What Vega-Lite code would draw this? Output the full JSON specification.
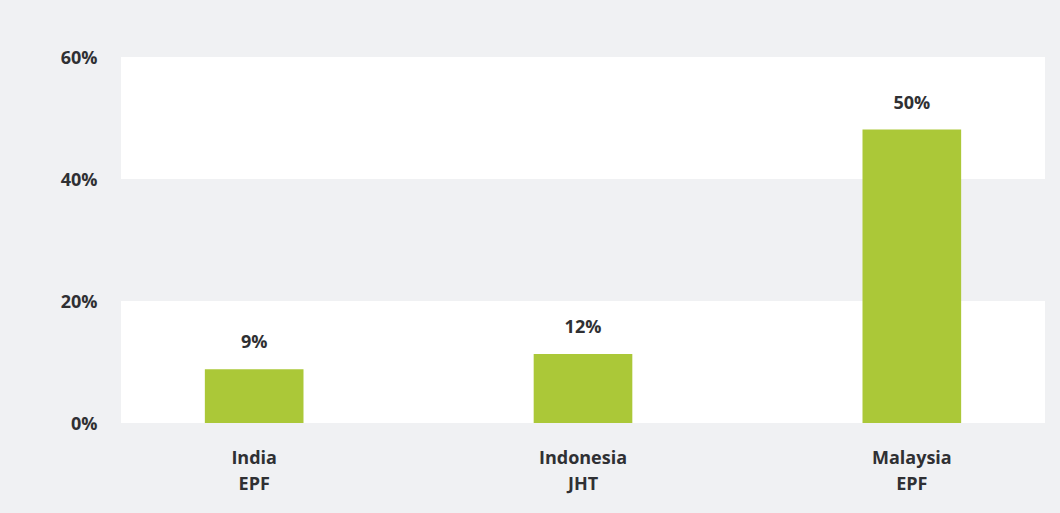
{
  "$schema": "https://vega.github.io/schema/vega-lite/v6.json",
  "width": 924,
  "height": 366,
  "autosize": {"type": "none"},
  "padding": {"left": 121, "top": 57, "right": 15, "bottom": 90},
  "background": "#f0f1f3",
  "config": {
    "view": {"fill": "#ffffff", "stroke": null},
    "font": "Open Sans"
  },
  "datasets": {
    "bars": [
      {"scheme": "India EPF", "share": 8.8, "label": "9%"},
      {"scheme": "Indonesia JHT", "share": 11.3, "label": "12%"},
      {"scheme": "Malaysia EPF", "share": 48.1, "label": "50%"}
    ],
    "bands": [
      {"from": 20, "to": 40}
    ]
  },
  "layer": [
    {
      "data": {"name": "bands"},
      "mark": {"type": "rect", "color": "#f0f1f3"},
      "encoding": {
        "y": {"field": "from", "type": "quantitative", "scale": {"domain": [0, 60]}},
        "y2": {"field": "to"}
      }
    },
    {
      "data": {"name": "bars"},
      "mark": {"type": "bar", "color": "#abc838"},
      "encoding": {
        "x": {
          "field": "scheme", "type": "nominal", "sort": null,
          "scale": {"paddingInner": 0.7, "paddingOuter": 0.255},
          "axis": {
            "title": null, "labelAngle": 0, "ticks": false, "domain": false, "grid": false,
            "labelExpr": "split(datum.label, ' ')",
            "labelFont": "Open Sans", "labelFontSize": 18, "labelFontWeight": "bold",
            "labelColor": "#2f3033", "labelPadding": 26, "labelLineHeight": 26
          }
        },
        "y": {
          "field": "share", "type": "quantitative",
          "scale": {"domain": [0, 60]},
          "axis": {
            "title": null, "values": [0, 20, 40, 60], "format": ".0f", "labelExpr": "datum.label + '%'",
            "ticks": false, "domain": false, "grid": false,
            "labelFont": "Open Sans", "labelFontSize": 18, "labelFontWeight": "bold",
            "labelColor": "#2f3033", "labelPadding": 24, "labelOffset": 1
          }
        }
      }
    },
    {
      "data": {"name": "bars"},
      "mark": {"type": "text", "font": "Open Sans", "fontSize": 18, "fontWeight": "bold", "color": "#2f3033", "baseline": "alphabetic", "dy": -21},
      "encoding": {
        "x": {"field": "scheme", "type": "nominal", "sort": null},
        "y": {"field": "share", "type": "quantitative"},
        "text": {"field": "label"}
      }
    }
  ]
}
